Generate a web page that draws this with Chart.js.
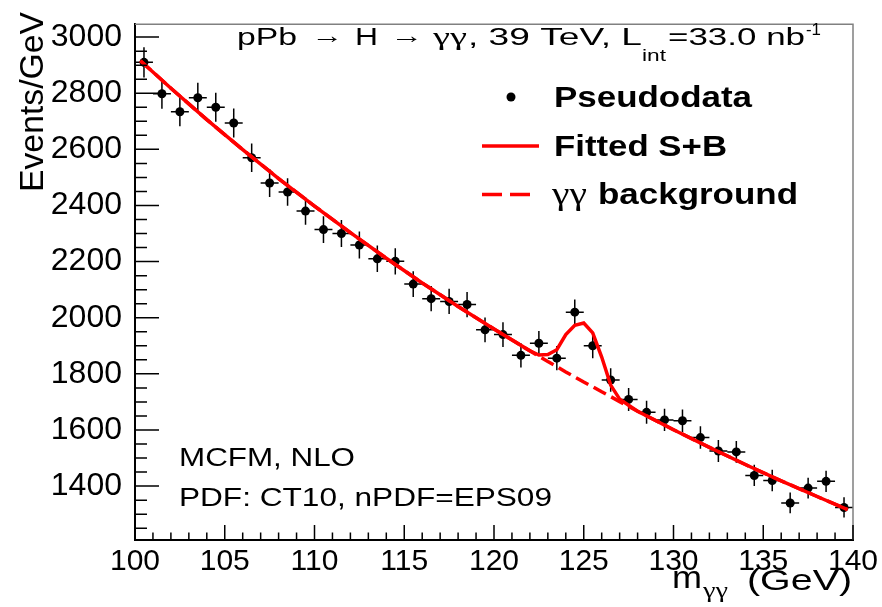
<!DOCTYPE html>
<html>
<head>
<meta charset="utf-8">
<title>pPb → H → γγ pseudodata</title>
<script src="https://cdn.jsdelivr.net/npm/chart.js@4.4.0/dist/chart.umd.min.js"></script>
<style>
  html, body { margin: 0; padding: 0; background: #fff; }
  canvas { display: block; }
</style>
</head>
<body>
<canvas id="graf" width="882" height="607"></canvas>
<script>
// bin centres (1 GeV bins) and pseudodata counts
const binCenters = [100.5, 101.5, 102.5, 103.5, 104.5, 105.5, 106.5, 107.5, 108.5, 109.5,
                    110.5, 111.5, 112.5, 113.5, 114.5, 115.5, 116.5, 117.5, 118.5, 119.5,
                    120.5, 121.5, 122.5, 123.5, 124.5, 125.5, 126.5, 127.5, 128.5, 129.5,
                    130.5, 131.5, 132.5, 133.5, 134.5, 135.5, 136.5, 137.5, 138.5, 139.5];
const pseudodata = [2910, 2798, 2734, 2784, 2750, 2694, 2570, 2480, 2448, 2380,
                    2314, 2300, 2259, 2210, 2201, 2120, 2068, 2058, 2047, 1957,
                    1940, 1866, 1909, 1856, 2020, 1900, 1778, 1709, 1663, 1636,
                    1633, 1573, 1525, 1522, 1438, 1420, 1340, 1393, 1417, 1324];
const pseudodataErr = [54, 53, 52, 53, 52, 52, 51, 50, 49, 49,
                       48, 48, 48, 47, 47, 46, 45, 45, 45, 44,
                       44, 43, 44, 43, 45, 44, 42, 41, 41, 40,
                       40, 40, 39, 39, 38, 38, 37, 37, 38, 36];
const binHalfWidth = 0.5;

// fitted curves, sampled along the mass axis
const fitX   = [100.3, 102, 104, 106, 108, 110, 112, 114, 116, 118, 120, 122,
                122.5, 123, 123.5, 124, 124.5, 125, 125.5, 126, 126.5, 127, 127.5, 128,
                130, 132, 134, 136, 138, 139.7];
const fitBkg = [2916, 2818, 2706, 2599, 2496, 2398, 2303, 2212, 2124, 2040, 1960, 1882,
                1863, 1844, 1826, 1807, 1789, 1771, 1754, 1736, 1719, 1701, 1684, 1667,
                1601, 1538, 1477, 1419, 1363, 1316];
const fitSB  = [2916, 2818, 2706, 2599, 2496, 2398, 2303, 2212, 2124, 2040, 1960, 1882,
                1867, 1869, 1886, 1940, 1973, 1981, 1946, 1860, 1760, 1710, 1688, 1667,
                1601, 1538, 1477, 1419, 1363, 1316];

const xTicks = [100, 105, 110, 115, 120, 125, 130, 135, 140];
const yTicks = [1400, 1600, 1800, 2000, 2200, 2400, 2600, 2800, 3000];
const xMinorStep = 1;
const yMinorStep = 50;

const FONT = "'Liberation Sans', Arial, Helvetica, sans-serif";
const GREEK = "'Liberation Serif', 'Times New Roman', serif";

// text squeezed/stretched to the width it has in the original
function fitText(ctx, str, x, y, font, w) {
    ctx.font = font;
    const m = ctx.measureText(str).width;
    ctx.save();
    ctx.translate(x, y);
    ctx.scale(w / m, 1);
    ctx.textAlign = "left";
    ctx.textBaseline = "alphabetic";
    ctx.fillText(str, 0, 0);
    ctx.restore();
}

const errorBars = {
    id: "errorBars",
    beforeDatasetsDraw(chart) {
        const ctx = chart.ctx, xs = chart.scales.x, ys = chart.scales.y;
        ctx.save();
        ctx.strokeStyle = "#000";
        ctx.lineWidth = 1.5;
        ctx.beginPath();
        for (let i = 0; i < binCenters.length; i++) {
            const px = xs.getPixelForValue(binCenters[i]);
            const py = ys.getPixelForValue(pseudodata[i]);
            ctx.moveTo(px, ys.getPixelForValue(pseudodata[i] - pseudodataErr[i]));
            ctx.lineTo(px, ys.getPixelForValue(pseudodata[i] + pseudodataErr[i]));
            ctx.moveTo(xs.getPixelForValue(binCenters[i] - binHalfWidth), py);
            ctx.lineTo(xs.getPixelForValue(binCenters[i] + binHalfWidth), py);
        }
        ctx.stroke();
        ctx.restore();
    }
};

const frameAndText = {
    id: "frameAndText",
    afterDraw(chart) {
        const ctx = chart.ctx, a = chart.chartArea, xs = chart.scales.x, ys = chart.scales.y;
        ctx.save();
        // gray frame top/right
        ctx.strokeStyle = "#808080";
        ctx.lineWidth = 1.5;
        ctx.beginPath();
        ctx.moveTo(a.left, a.top); ctx.lineTo(a.right, a.top); ctx.lineTo(a.right, a.bottom);
        ctx.stroke();

        // ticks inside the frame
        ctx.strokeStyle = "#000";
        ctx.lineWidth = 1.5;
        ctx.beginPath();
        for (let v = xs.min; v <= xs.max + 1e-9; v += xMinorStep) {
            const px = xs.getPixelForValue(v);
            const len = xTicks.includes(v) ? 15 : 7.5;
            ctx.moveTo(px, a.bottom); ctx.lineTo(px, a.bottom - len);
        }
        for (let v = Math.ceil(ys.min / yMinorStep) * yMinorStep; v <= ys.max; v += yMinorStep) {
            const py = ys.getPixelForValue(v);
            const len = yTicks.includes(v) ? 24 : 12;
            ctx.moveTo(a.left, py); ctx.lineTo(a.left + len, py);
        }
        ctx.stroke();

        ctx.fillStyle = "#000";
        // title
        fitText(ctx, "pPb", 237, 45, "23px " + FONT, 60);
        fitText(ctx, "\u2192", 311, 43, "23px " + FONT, 32);
        fitText(ctx, "H", 355, 45, "23px " + FONT, 23);
        fitText(ctx, "\u2192", 390, 43, "23px " + FONT, 33);
        fitText(ctx, "\u03B3\u03B3", 433, 45, "25px " + GREEK, 34);
        fitText(ctx, ", 39 TeV, L", 468, 45, "23px " + FONT, 174);
        fitText(ctx, "int", 642, 61, "16px " + FONT, 24);
        fitText(ctx, "=33.0 nb", 668, 45, "23px " + FONT, 137);
        fitText(ctx, "-1", 806, 35, "17px " + FONT, 15);

        // legend
        ctx.beginPath();
        ctx.arc(511, 97, 4.5, 0, Math.PI * 2);
        ctx.fill();
        fitText(ctx, "Pseudodata", 554, 107, "bold 29px " + FONT, 198);
        ctx.strokeStyle = "#ff0000";
        ctx.lineWidth = 3.5;
        ctx.beginPath();
        ctx.moveTo(482, 146); ctx.lineTo(539, 146);
        ctx.stroke();
        fitText(ctx, "Fitted S+B", 554, 156, "bold 29px " + FONT, 173);
        ctx.setLineDash([20, 8]);
        ctx.beginPath();
        ctx.moveTo(482, 194.5); ctx.lineTo(533, 194.5);
        ctx.stroke();
        ctx.setLineDash([]);
        fitText(ctx, "\u03B3\u03B3", 552, 204, "31px " + GREEK, 35);
        fitText(ctx, "background", 598, 204, "bold 29px " + FONT, 200);

        // generator notes
        fitText(ctx, "MCFM, NLO", 179, 466, "25px " + FONT, 176);
        fitText(ctx, "PDF: CT10, nPDF=EPS09", 179, 506, "25px " + FONT, 373);

        // axis titles
        fitText(ctx, "m", 672, 588, "32px " + FONT, 30);
        fitText(ctx, "\u03B3\u03B3", 703, 597, "21px " + GREEK, 25);
        fitText(ctx, "(GeV)", 747, 590, "30px " + FONT, 105);

        ctx.save();
        ctx.translate(43, 192);
        ctx.rotate(-Math.PI / 2);
        fitText(ctx, "Events/GeV", 0, 0, "33px " + FONT, 180);
        ctx.restore();

        ctx.restore();
    }
};

const ctx = document.getElementById("graf").getContext("2d");
new Chart(ctx, {
    type: "scatter",
    data: {
        datasets: [
            {
                label: "Fitted S+B",
                data: fitX.map((x, i) => ({ x: x, y: fitSB[i] })),
                showLine: true, borderColor: "#ff0000", borderWidth: 3.5,
                pointRadius: 0, tension: 0, order: 1
            },
            {
                label: "\u03B3\u03B3 background",
                data: fitX.map((x, i) => ({ x: x, y: fitBkg[i] })),
                showLine: true, borderColor: "#ff0000", borderWidth: 3.5, borderDash: [14, 6],
                pointRadius: 0, tension: 0, order: 2
            },
            {
                label: "Pseudodata",
                data: binCenters.map((x, i) => ({ x: x, y: pseudodata[i] })),
                showLine: false, pointRadius: 4.5, pointBackgroundColor: "#000",
                pointBorderWidth: 0, order: 3
            }
        ]
    },
    options: {
        responsive: false,
        animation: false,
        layout: { padding: { left: 0, right: 29, top: 10, bottom: 0 } },
        plugins: { legend: { display: false }, tooltip: { enabled: false } },
        scales: {
            x: {
                type: "linear", min: 100, max: 140,
                afterBuildTicks: function(s) { s.ticks = xTicks.map(v => ({ value: v })); },
                afterFit: function(s) { s.height = 67; },
                grid: { display: false },
                border: { display: true, color: "#000", width: 2 },
                ticks: { color: "#000", font: { family: FONT, size: 30 }, padding: -4, maxRotation: 0, autoSkip: false,
                         callback: function(v) { return String(v); } }
            },
            y: {
                type: "linear", min: 1208, max: 3046,
                afterBuildTicks: function(s) { s.ticks = yTicks.map(v => ({ value: v })); },
                afterFit: function(s) { s.width = 135; },
                grid: { display: false },
                border: { display: true, color: "#000", width: 2 },
                ticks: { color: "#000", font: { family: FONT, size: 32 }, padding: 5, autoSkip: false,
                         callback: function(v) { return String(v); } }
            }
        }
    },
    plugins: [errorBars, frameAndText]
});
</script>
</body>
</html>
